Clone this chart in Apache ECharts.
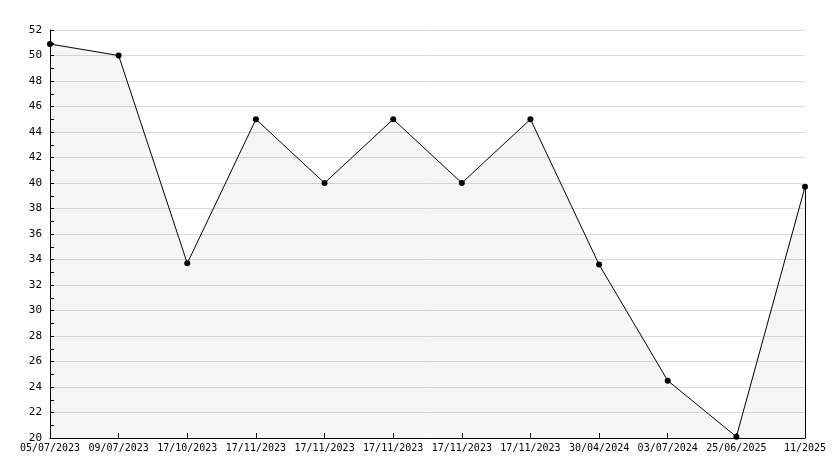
<!DOCTYPE html>
<html><head><meta charset="utf-8">
<script src="https://cdn.jsdelivr.net/npm/echarts@6/dist/echarts.min.js"></script>
<style>html,body{margin:0;padding:0;background:#fff}#c{width:834px;height:468px}</style>
</head><body><div id="c"></div>
<script>
var categories = ['05/07/2023','09/07/2023','17/10/2023','17/11/2023','17/11/2023','17/11/2023','17/11/2023','17/11/2023','30/04/2024','03/07/2024','25/06/2025','11/2025'];
var values = [50.9, 50.0, 33.7, 45.0, 40.0, 45.0, 40.0, 45.0, 33.6, 24.5, 20.1, 39.7];
var yMin = 20, yMax = 52, yStep = 2;

var chart = echarts.init(document.getElementById('c'), null, {renderer:'canvas'});
var font = 'DejaVu Sans Mono';
var lastIdx = values.length - 1;
chart.setOption({
  animation:false,
  backgroundColor:'#fff',
  grid:{left:50, right:29, top:30, bottom:30},
  xAxis:{
    type:'category', data:categories, boundaryGap:false,
    axisLine:{lineStyle:{color:'#000', width:1}},
    axisTick:{inside:true, length:5, lineStyle:{color:'#000'}},
    axisLabel:{color:'#000', fontFamily:font, fontSize:10, margin:5, interval:0},
    splitLine:{show:false}
  },
  yAxis:{
    type:'value', min:yMin, max:yMax, interval:yStep,
    axisLine:{show:true, lineStyle:{color:'#000', width:1}},
    axisTick:{show:true, inside:true, length:4, lineStyle:{color:'#000'}},
    minorTick:{show:true, splitNumber:2, length:4, lineStyle:{color:'#000'}},
    axisLabel:{color:'#000', fontFamily:font, fontSize:11, margin:8},
    splitLine:{show:true, lineStyle:{color:'#dcdcdc', width:1}}
  },
  series:[{
    type:'line', data:values,
    symbol:'circle', symbolSize:6,
    itemStyle:{color:'#000'},
    lineStyle:{color:'#000', width:1},
    areaStyle:{color:'rgba(0,0,0,0.055)', origin:'start'},
    markLine:{
      silent:true, symbol:'none', label:{show:false},
      lineStyle:{color:'#000', width:1, type:'solid'},
      data:[[{coord:[lastIdx, values[lastIdx]]},{coord:[lastIdx, yMin]}]]
    }
  }]
});
</script></body></html>
